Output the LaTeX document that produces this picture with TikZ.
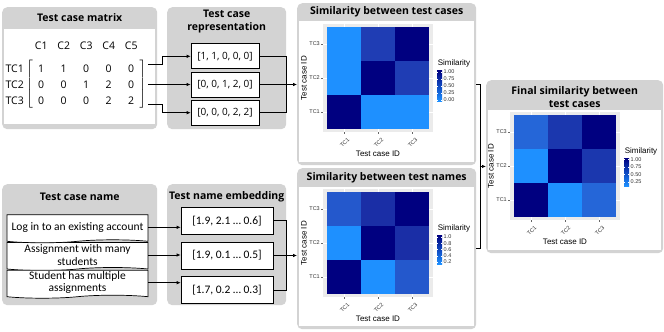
\documentclass[tikz,border=0pt]{standalone}
\usepackage{fontspec}
\setmainfont{Carlito}
\newfontfamily\uifont{Open Sans}
\newfontfamily\plotfont{Liberation Sans}
\usetikzlibrary{arrows.meta, positioning, calc, matrix, shapes.symbols}
\definecolor{panelGray}{HTML}{D3D3D3}
\definecolor{plotBack}{HTML}{EBEBEB}
\definecolor{simLow}{HTML}{1E90FF}
\definecolor{simHigh}{HTML}{000080}
\definecolor{simCase}{HTML}{1F3DB4}
\definecolor{simNameA}{HTML}{1A2EA6}
\definecolor{simNameB}{HTML}{2458CC}
\definecolor{simFinA}{HTML}{1B37AE}
\definecolor{simFinB}{HTML}{2566D8}
% heat map with axes and key: #1 tiles, #2 key bottom, #3 key ticks
\newcommand{\simplot}[3]{%
  \fill[plotBack] (-4,-3) rectangle (106,105);
  \foreach \k in {0,1,2} {
    \draw[white, line width=0.6pt] (\k*34+17,-3) -- (\k*34+17,105);
    \draw[white, line width=0.6pt] (-4,\k*34+17) -- (106,\k*34+17);
  }
  \foreach \row/\k/\col in {#1}
    \fill[\col] (\k*34,\row*34) rectangle ++(34,34);
  \foreach \row/\lab in {0/TC3,1/TC2,2/TC1} {
    \draw[tickmark] (-6,\row*34+17) -- (-4,\row*34+17);
    \node[ticklab, anchor=east] (ytick\row) at (-6.5,\row*34+17) {\lab};
  }
  \foreach \k/\lab in {0/TC1,1/TC2,2/TC3} {
    \draw[tickmark] (\k*34+17,105) -- (\k*34+17,107);
    \node[ticklab, anchor=north east, rotate=45] (xtick\k) at (\k*34+20,109.5) {\lab};
  }
  \node[axlab] (xtitle) at (51,127) {Test case ID};
  \node[axlab, rotate=90] (ytitle) at (-23,51) {Test case ID};
  \node[axlab] (keytitle) at (127,36) {Similarity};
  \shade[bottom color=simLow, top color=simHigh] (110,#2) rectangle (115,43);
  \foreach \yy/\lab [count=\i] in {#3} {
    \draw[white, line width=0.4pt] (110,\yy) -- (111,\yy) (114,\yy) -- (115,\yy);
    \node[ticklab, anchor=west] (key\i) at (116,\yy) {\lab};
  }
}

\begin{document}
\begin{tikzpicture}[x=1pt, y=-1pt,
  every node/.style={inner sep=0pt},
  panel/.style={fill=panelGray, rounded corners=5pt, anchor=north west},
  title/.style={font=\uifont\bfseries\fontsize{10.5}{13}\selectfont, align=center},
  cell/.style={font=\uifont\fontsize{10.5}{12}\selectfont},
  vecbox/.style={draw, fill=white, line width=0.7pt, minimum width=68pt, minimum height=25pt,
    font=\uifont\fontsize{10}{12}\selectfont},
  embbox/.style={draw, fill=white, line width=0.7pt, minimum width=92pt, minimum height=27pt,
    font=\fontsize{11.5}{13}\selectfont},
  docbox/.style={tape, tape bend top=none, tape bend height=3pt, draw, fill=white, line width=0.7pt,
    minimum width=141pt, minimum height=28pt, inner ysep=1pt, align=center,
    font=\fontsize{11.5}{12.5}\selectfont},
  wire/.style={line width=0.7pt},
  link/.style={wire, -{Latex[length=4pt, width=3.5pt]}},
  ticklab/.style={font=\plotfont\fontsize{5.5}{6}\selectfont, text=black!80, inner sep=0.5pt},
  tickmark/.style={black!60, line width=0.4pt},
  axlab/.style={font=\plotfont\fontsize{8}{9}\selectfont}
]
  \useasboundingbox (0,0) rectangle (664,332);

  % panels
  \node[panel, minimum width=155pt, minimum height=122pt] (matP) at (2,7) {};
  \fill[white] ($(matP.north west)+(2,22)$) rectangle ($(matP.south east)+(-2,-5)$);
  \node[panel, minimum width=119pt, minimum height=122pt] (repP) at (167,7) {};
  \node[panel, minimum width=179pt, minimum height=162pt] (simA) at (297,3) {};
  \fill[white] ($(simA.north west)+(2,18)$) rectangle ($(simA.south east)+(-2,-3)$);
  \node[panel, minimum width=179pt, minimum height=161pt] (simB) at (297,168) {};
  \fill[white] ($(simB.north west)+(2,19)$) rectangle ($(simB.south east)+(-2,-3)$);
  \node[panel, minimum width=177pt, minimum height=173pt] (finP) at (486,80) {};
  \fill[white] ($(finP.north west)+(2,30)$) rectangle ($(finP.south east)+(-2,-3)$);
  \node[panel, minimum width=155pt, minimum height=121pt] (nameP) at (2,184) {};
  \node[panel, minimum width=119pt, minimum height=121pt] (embP) at (167,184) {};

  % titles
  \node[title] (matT) at ($(matP.north)+(0,11)$) {Test case matrix};
  \node[title] (repT) at ($(repP.north)+(0,14.5)$) {Test case\\representation};
  \node[title] (simAT) at ($(simA.north)+(0,9)$) {Similarity between test cases};
  \node[title] (simBT) at ($(simB.north)+(0,9.5)$) {Similarity between test names};
  \node[title] (finT) at ($(finP.north)+(0,17)$) {Final similarity between\\test cases};
  \node[title] (nameT) at ($(nameP.north)+(0,13)$) {Test case name};
  \node[title] (embT) at ($(embP.north)+(0,13)$) {Test name embedding};

  % test case matrix
  \matrix[matrix of nodes, left delimiter={[}, right delimiter={]}, column sep=8.5pt,
    nodes={cell, minimum width=14pt, minimum height=16pt}] (m) at (86.25,84.5) {
    1 & 1 & 0 & 0 & 0 \\
    0 & 0 & 1 & 2 & 0 \\
    0 & 0 & 0 & 2 & 2 \\};
  \foreach \k in {1,...,5}
    \node[cell, above=10pt of m-1-\k] (col\k) {C\k};
  \foreach \row in {1,2,3}
    \node[cell, left=10pt of m-\row-1] (tc\row) {TC\row};

  % representation vectors
  \node[vecbox] (vec2) at (225,84.5) {[0, 0, 1, 2, 0]};
  \node[vecbox, above=2.5pt of vec2] (vec1) {[1, 1, 0, 0, 0]};
  \node[vecbox, below=2.5pt of vec2] (vec3) {[0, 0, 0, 2, 2]};

  \draw[link] ($(m-1-5.east -| m.east)+(10,-4)$) -- ++(14,0) |- (vec1.west);
  \draw[link] ($(m-2-5.east -| m.east)+(10,0)$) -- (vec2.west);
  \draw[link] ($(m-3-5.east -| m.east)+(10,4)$) -- ++(14,0) |- (vec3.west);
  \draw[wire] (vec1.east) -| (vec2.east -| repP.east);
  \draw[wire] (vec3.east) -| (vec2.east -| repP.east);
  \draw[link] (vec2.east) -- (vec2.east -| simA.west);

  % test names and embeddings
  \node[docbox] (doc2) at (77.5,255) {Assignment with many\\students};
  \node[docbox, above=2pt of doc2] (doc1) {Log in to an existing account};
  \node[docbox, below=2pt of doc2] (doc3) {Student has multiple\\assignments};
  \node[embbox] (emb2) at (227,255.5) {[1.9, 0.1 … 0.5]};
  \node[embbox, above=7pt of emb2] (emb1) {[1.9, 2.1 … 0.6]};
  \node[embbox, below=7pt of emb2] (emb3) {[1.7, 0.2 … 0.3]};

  \foreach \i in {1,2,3}
    \draw[link] (doc\i.east) -- (doc\i.east -| emb\i.west);
  \draw[wire] (emb1.east) -| (emb2.east -| embP.east);
  \draw[wire] (emb3.east) -| (emb2.east -| embP.east);
  \draw[link] (emb2.east) -- (emb2.east -| simB.west);

  % heat maps
  \begin{scope}[shift={(327,27)}, name prefix=hA-]
    \simplot{0/0/simLow,0/1/simCase,0/2/simHigh,1/0/simLow,1/1/simHigh,1/2/simCase,
      2/0/simHigh,2/1/simLow,2/2/simLow}{74}{45/1.00,52/0.75,59/0.50,66/0.25,73/0.00}
  \end{scope}
  \begin{scope}[shift={(327,192)}, name prefix=hB-]
    \simplot{0/0/simNameB,0/1/simNameA,0/2/simHigh,1/0/simLow,1/1/simHigh,1/2/simNameA,
      2/0/simHigh,2/1/simLow,2/2/simNameB}{72}{45/1.0,51.25/0.8,57.5/0.6,63.75/0.4,70/0.2}
  \end{scope}
  \begin{scope}[shift={(514,115)}, name prefix=hC-]
    \simplot{0/0/simFinB,0/1/simFinA,0/2/simHigh,1/0/simLow,1/1/simHigh,1/2/simFinA,
      2/0/simHigh,2/1/simLow,2/2/simFinB}{71}{44.5/1.00,52/0.75,59.5/0.50,67/0.25}
  \end{scope}

  % combine both similarities
  \coordinate (jn) at ($(simA.east)!0.5!(simB.east)+(3.5,0)$);
  \draw[wire] (simA.east) -- (simA.east -| jn) |- (simB.east);
  \draw[link] (jn) -- (jn -| finP.west);
\end{tikzpicture}
\end{document}
